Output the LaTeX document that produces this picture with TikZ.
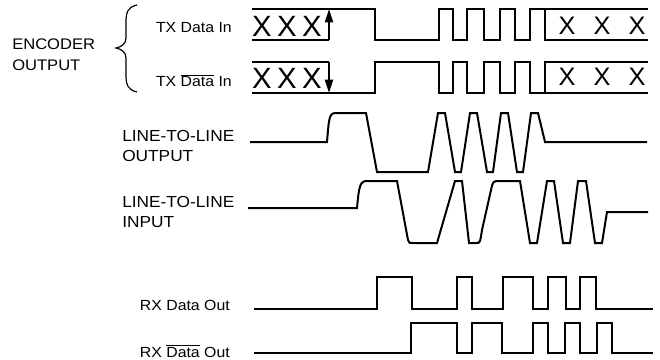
\documentclass[tikz,border=0pt]{standalone}
\usepackage{fontspec}
\setmainfont[FakeStretch=1.08]{Liberation Sans}
\newfontfamily\xfont{Liberation Sans}
\usetikzlibrary{arrows.meta}

\tikzset{
  wave/.style={line width=1.5pt},
  tip/.style={-{Triangle[length=10pt,width=6pt]}},
  lbl/.style={inner sep=0pt, font=\fontsize{11}{13}\selectfont},
  biglbl/.style={inner sep=0pt, font=\fontsize{12}{14}\selectfont},
  encx/.style={inner sep=0pt, font=\xfont\fontsize{22}{24}\selectfont},
  boxx/.style={inner sep=0pt, font=\xfont\fontsize{19}{21}\selectfont}
}
\newcommand{\barData}{$\overline{\mbox{Data}}$}

\begin{document}
\begin{tikzpicture}[x=0.75pt,y=-0.75pt]
    \useasboundingbox (0,0) rectangle (660,360);
    % labels
    \node[lbl,font=\fontsize{11.5}{14}\selectfont,anchor=base west] (enc) at (12,50) {ENCODER};
    \node[lbl,font=\fontsize{11.5}{14}\selectfont,anchor=base west] (encout) at (12,70) {OUTPUT};
    \node[lbl,anchor=base east] (txin) at (232,33) {TX Data In};
    \node[lbl,anchor=base east] (txbar) at (232,87) {TX \barData{} In};
    \node[biglbl,anchor=base west] (ltlo) at (122,141) {LINE-TO-LINE};
    \node[biglbl,anchor=base west] (ltlob) at (122,161) {OUTPUT};
    \node[biglbl,anchor=base west] (ltli) at (122,207) {LINE-TO-LINE};
    \node[biglbl,anchor=base west] (ltlib) at (122,227) {INPUT};
    \node[lbl,anchor=base east] (rxout) at (230,310) {RX Data Out};
    \node[lbl,anchor=base east] (rxbar) at (230,357) {RX \barData{} Out};
    % brace
    \draw[line width=0.9pt] (137,5) .. controls (128,7) and (126,12) .. (126,22) -- (126,38)
        .. controls (126,44) and (121,47) .. (116,48) .. controls (121,49) and (126,52) .. (126,58)
        -- (126,75) .. controls (126,85) and (128,90) .. (137,92);
    % TX Data In
    \draw[wave] (252,9) -- (375,9) -- (375,40) -- (439,40) -- (439,9) -- (453,9) -- (453,40)
        -- (467,40) -- (467,9) -- (484,9) -- (484,40) -- (500,40) -- (500,9) -- (515,9)
        -- (515,40) -- (530,40) -- (530,9) -- (648,9);
    \draw[wave] (252,40) -- (329,40);
    \draw[wave,tip] (329,40) -- (329,9);
    \draw[wave] (545,9) -- (545,40) -- (648,40);
    % TX Data bar In
    \draw[wave] (252,62) -- (329,62);
    \draw[wave,tip] (329,62) -- (329,93);
    \draw[wave] (252,93) -- (375,93) -- (375,62) -- (439,62) -- (439,93) -- (453,93) -- (453,62)
        -- (467,62) -- (467,93) -- (484,93) -- (484,62) -- (500,62) -- (500,93) -- (515,93)
        -- (515,62) -- (530,62) -- (530,93) -- (648,93);
    \draw[wave] (545,93) -- (545,62) -- (648,62);
    \foreach \x/\n in {262/1,287/2,312/3} {
        \node[encx] (xa\n) at (\x,26) {X};
        \node[encx] (xb\n) at (\x,78) {X};
    }
    \foreach \x/\n in {567/1,602/2,637/3} {
        \node[boxx] (ya\n) at (\x,26) {X};
        \node[boxx] (yb\n) at (\x,77) {X};
    }
    % line-to-line output
    \draw[wave] (250,142) -- (327,142) .. controls (329,118) and (329,113) .. (336,113) -- (366,113)
        -- (377,172) -- (428,172) -- (438,113) -- (445,113) -- (455,172) -- (461,172)
        -- (470,113) -- (477,113) -- (487,172) -- (493,172) -- (501,113) -- (508,113)
        -- (517,172) -- (523,172) -- (531,113) -- (538,113) -- (545,142) -- (647,142);
    % line-to-line input
    \draw[wave] (248,208) -- (357,208) .. controls (359,186) and (360,181) .. (367,181) -- (397,181)
        -- (408,240) .. controls (409,243) .. (413,243) -- (437,243) -- (455,181) -- (462,181)
        -- (469,243) -- (476,243) .. controls (480,243) .. (482,230) -- (491,190)
        .. controls (493,181) .. (500,181) -- (520,181) -- (530,243) -- (537,243)
        -- (547,181) -- (554,181) -- (563,243) -- (570,243) -- (578,181) -- (586,181)
        -- (595,243) -- (602,243) -- (607,212) -- (648,212);
    % RX Data Out
    \draw[wave] (254,309) -- (377,309) -- (377,277) -- (412,277) -- (412,309) -- (457,309)
        -- (457,277) -- (472,277) -- (472,309) -- (503,309) -- (503,277) -- (533,277)
        -- (533,309) -- (548,309) -- (548,277) -- (566,277) -- (566,309) -- (580,309)
        -- (580,277) -- (596,277) -- (596,309) -- (653,309);
    % RX Data bar Out
    \draw[wave] (254,353) -- (411,353) -- (411,323) -- (457,323) -- (457,353) -- (472,353)
        -- (472,323) -- (502,323) -- (502,353) -- (533,353) -- (533,323) -- (548,323)
        -- (548,353) -- (565,353) -- (565,323) -- (580,323) -- (580,353) -- (597,353)
        -- (597,323) -- (612,323) -- (612,353) -- (653,353);
\end{tikzpicture}
\end{document}
